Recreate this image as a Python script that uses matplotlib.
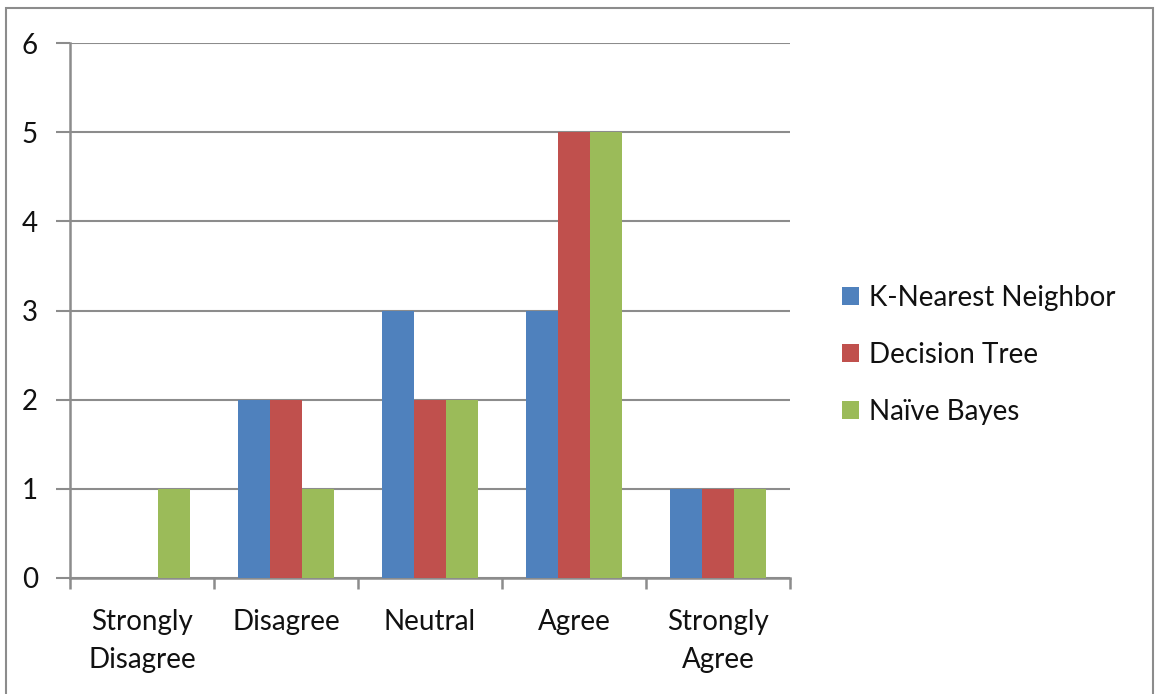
import matplotlib
matplotlib.use("Agg")
import matplotlib.pyplot as plt
from matplotlib.patches import Rectangle, Patch
import numpy as np

categories = ["Strongly\nDisagree", "Disagree", "Neutral", "Agree", "Strongly\nAgree"]
series_names = ["K-Nearest Neighbor", "Decision Tree", "Naïve Bayes"]
knn = [0, 2, 3, 3, 1]
tree = [0, 2, 2, 5, 1]
bayes = [1, 1, 2, 5, 1]
colors = ["#4F81BD", "#C0504D", "#9BBB59"]

plt.rcParams["font.family"] = ["Lato", "DejaVu Sans"]
W, H = 1155, 694
fig = plt.figure(figsize=(W / 100, H / 100), dpi=100)
fig.patch.set_facecolor("white")

ax = fig.add_axes([70 / W, 1 - 578 / H, 720 / W, 535 / H])
grid_c = "#8C8C8C"
text_c = "#111111"
fs = 20

x = np.arange(len(categories))
bw = 1 / 4.5
for i, (vals, c, name) in enumerate(zip([knn, tree, bayes], colors, series_names)):
    ax.bar(x + (i - 1) * bw, vals, width=bw, color=c, zorder=3, label=name)

ax.set_xlim(-0.5, len(categories) - 0.5)
ax.set_ylim(0, 6)
ax.set_yticks(range(0, 7))
ax.yaxis.grid(True, color=grid_c, linewidth=1.5, zorder=0)
ax.set_axisbelow(True)

for s in ["top", "right"]:
    ax.spines[s].set_visible(False)
for s in ["left", "bottom"]:
    ax.spines[s].set_color(grid_c)
    ax.spines[s].set_linewidth(1.8)

# category boundaries carry the tick marks, labels sit at the centres
ax.set_xticks(np.arange(-0.5, len(categories)), minor=False)
ax.set_xticklabels([])
ax.set_xticks(x, minor=True)
ax.set_xticklabels(categories, minor=True, fontsize=fs, color=text_c, linespacing=1.6)
ax.tick_params(axis="x", which="major", length=8, width=1.8, color=grid_c, direction="out")
ax.tick_params(axis="x", which="minor", length=0, pad=22)
ax.tick_params(axis="y", length=10, width=1.5, color=grid_c, labelsize=fs,
               labelcolor=text_c, pad=13)

handles = [Patch(facecolor=c, label=n) for c, n in zip(colors, series_names)]
fig.legend(handles=handles, loc="upper left", bbox_to_anchor=(817 / W, 1 - 260 / H),
           frameon=False, fontsize=fs, handlelength=0.62, handleheight=0.62,
           handletextpad=0.36, labelspacing=1.12, labelcolor=text_c)

fig.patches.append(Rectangle((6 / W, -0.05), 1147 / W, 1.05 - 8 / H,
                             transform=fig.transFigure, fill=False,
                             edgecolor="#8C8C8C", linewidth=1.5))

fig.savefig("out.png", dpi=100)
